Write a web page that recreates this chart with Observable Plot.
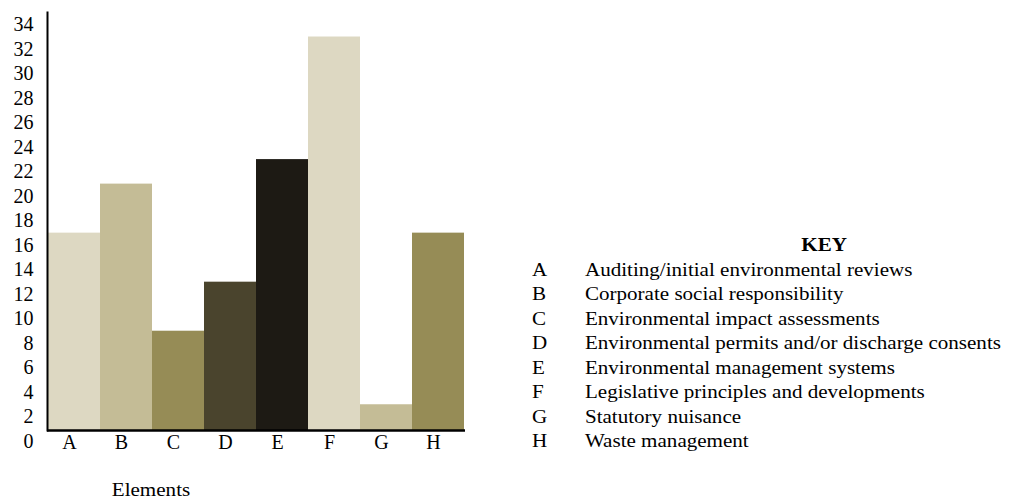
<!DOCTYPE html>
<html>
<head>
<meta charset="utf-8">
<script src="https://cdn.jsdelivr.net/npm/d3@7"></script>
<script src="https://cdn.jsdelivr.net/npm/@observablehq/plot@0.6"></script>
<style>
  html, body { margin: 0; padding: 0; background: #fff; }
  #wrap { position: relative; width: 1009px; height: 499px; overflow: hidden; font-family: "Liberation Serif", "DejaVu Serif", serif; color: #000; }
  #chart { position: absolute; left: 0; top: 0; }
  #key { position: absolute; left: 532px; top: 233px; font-size: 19.5px; line-height: 24.5px; transform: scaleX(1.08); transform-origin: 0 0; white-space: nowrap; }
  #key .title { font-weight: bold; text-align: center; width: 541px; }
  #key .row { display: flex; }
  #key .row .k { width: 49px; }
  #xlabel { position: absolute; left: 151px; top: 478px; transform: translateX(-50%) scaleX(1.08); font-size: 19.5px; line-height: 24px; white-space: nowrap; }
</style>
</head>
<body>
<div id="wrap">
  <div id="chart"></div>
  <div id="key"></div>
  <div id="xlabel">Elements</div>
</div>
<script>
const categories = ["A", "B", "C", "D", "E", "F", "G", "H"];
const values = [17, 21, 9, 13, 23, 33, 3, 17];
const colors = ["#ddd8c2", "#c4bc96", "#968c56", "#4a442d", "#1d1a14", "#ddd8c2", "#c4bc96", "#968c56"];
const keyLabels = [
  "Auditing/initial environmental reviews",
  "Corporate social responsibility",
  "Environmental impact assessments",
  "Environmental permits and/or discharge consents",
  "Environmental management systems",
  "Legislative principles and developments",
  "Statutory nuisance",
  "Waste management"
];
const yTicks = d3.range(0, 35, 2);
const baseline = 0.9;

const data = categories.map((c, i) => ({cat: c, value: values[i], color: colors[i]}));

const font = "Liberation Serif, DejaVu Serif, serif";

const chart = Plot.plot({
  width: 1009,
  height: 499,
  marginLeft: 47,
  marginRight: 544,
  marginTop: 12,
  marginBottom: 69,
  style: {fontFamily: font, fontSize: "20px", background: "transparent", color: "#000", overflow: "visible"},
  x: {domain: categories, padding: 0, label: null},
  y: {domain: [baseline, 35], range: [430, 12], label: null},
  marks: [
    Plot.rectY(data, {x: "cat", y1: baseline, y2: "value", fill: "color", inset: 0}),
    Plot.frame({anchor: "left", stroke: "#000", strokeWidth: 2}),
    Plot.ruleY([baseline], {stroke: "#000", strokeWidth: 2.5}),
    Plot.axisY(yTicks, {tickSize: 0, tickPadding: 14, fontSize: 20, label: null}),
    Plot.axisX({tickSize: 0, tickPadding: 4, dx: -5, fontSize: 20, label: null})
  ]
});
document.getElementById("chart").appendChild(chart);

const key = document.getElementById("key");
const t = document.createElement("div");
t.className = "title";
t.textContent = "KEY";
key.appendChild(t);
categories.forEach((c, i) => {
  const r = document.createElement("div");
  r.className = "row";
  r.innerHTML = `<span class="k">${c}</span><span>${keyLabels[i]}</span>`;
  key.appendChild(r);
});
</script>
</body>
</html>
